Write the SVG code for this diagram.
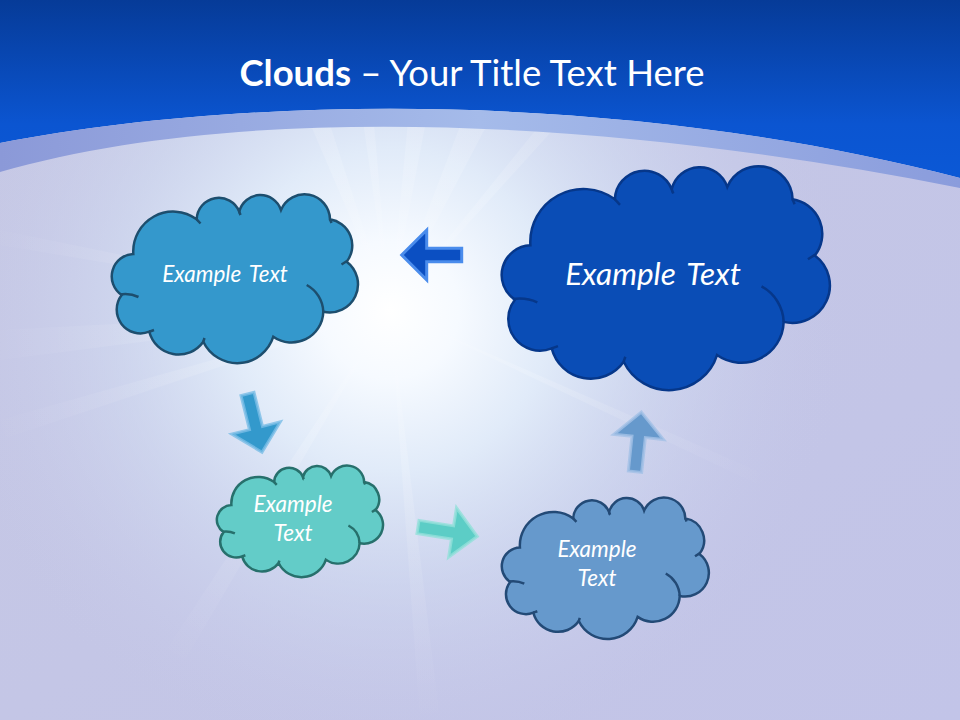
<svg xmlns="http://www.w3.org/2000/svg" xmlns:xlink="http://www.w3.org/1999/xlink" width="960" height="720" viewBox="0 0 960 720">
  <defs>
    <linearGradient id="topBlue" x1="0" y1="0" x2="0" y2="1">
      <stop offset="0" stop-color="#063b98"/>
      <stop offset="0.7" stop-color="#0b55d1"/>
      <stop offset="1" stop-color="#0b58d6"/>
    </linearGradient>
    <linearGradient id="bandGrad" x1="0" y1="0" x2="1" y2="0">
      <stop offset="0" stop-color="#8b99d8"/>
      <stop offset="0.5" stop-color="#a5bbea"/>
      <stop offset="1" stop-color="#8a9cdc"/>
    </linearGradient>
    <linearGradient id="mainGrad" x1="0" y1="0" x2="1" y2="1">
      <stop offset="0" stop-color="#c6c8e4"/>
      <stop offset="1" stop-color="#c2c4e8"/>
    </linearGradient>
    <radialGradient id="glow" cx="390" cy="310" r="460" gradientUnits="userSpaceOnUse">
      <stop offset="0" stop-color="#ffffff" stop-opacity="1"/>
      <stop offset="0.15" stop-color="#f6faff" stop-opacity="1"/>
      <stop offset="0.35" stop-color="#e4effb" stop-opacity="0.9"/>
      <stop offset="0.6" stop-color="#d6e2f5" stop-opacity="0.5"/>
      <stop offset="0.85" stop-color="#cdd4ef" stop-opacity="0.15"/>
      <stop offset="1" stop-color="#c4c8e6" stop-opacity="0"/>
    </radialGradient>
    <radialGradient id="rayFade" cx="390" cy="310" r="420" gradientUnits="userSpaceOnUse">
      <stop offset="0" stop-color="#ffffff" stop-opacity="0"/>
      <stop offset="0.35" stop-color="#ffffff" stop-opacity="0.16"/>
      <stop offset="1" stop-color="#ffffff" stop-opacity="0"/>
    </radialGradient>
    <path id="cloudBody" vector-effect="non-scaling-stroke" d="M133.3,254 A39.9,39.9 0 0 1 196.7,219.3 A22.1,22.1 0 0 1 239.3,211.7 A21.7,21.7 0 0 1 281,210 A25.5,25.5 0 0 1 330,219.3 A26.5,26.5 0 0 1 346.7,261.7 A28.2,28.2 0 0 1 323.3,311.7 A31.7,31.7 0 0 1 273.3,336.7 A37.7,37.7 0 0 1 203.3,341.7 A30.2,30.2 0 0 1 149.3,331.7 A23.8,23.8 0 0 1 121.7,295 A22.4,22.4 0 0 1 133.3,254 Z"/>
    <path id="cloudTails" fill="none" vector-effect="non-scaling-stroke" d="M120,294.5 Q130,293 138.5,297 M306.7,285 A31.7,31.7 0 0 1 323.3,311.7 M341.5,264.5 L347,261 M196.7,219.3 L200.5,223.5 M239.3,211.7 L240.5,215 M330,219.3 L331.5,223 M149.3,331.7 L154,330 M203.3,341.7 L204.5,338"/>
    <polygon id="arrow" points="0,-6.7 35,-6.7 35,-25 60,0 35,25 35,6.7 0,6.7"/>
  </defs>
  <style>
    .title { font-family: Lato, "Open Sans", "Liberation Sans", sans-serif; fill: #ffffff; font-size: 36.5px; }
    .lbl { font-family: Lato, "Open Sans", "Liberation Sans", sans-serif; font-style: italic; fill: #ffffff; text-anchor: middle; stroke: none; }
    .c-left { fill: #3498cc; stroke: #1d4e6e; stroke-width: 2.5; }
    .c-big { fill: #0a4db6; stroke: #06378a; stroke-width: 2.5; }
    .c-teal { fill: #63ccc8; stroke: #27706c; stroke-width: 2.5; }
    .c-gray { fill: #6699cc; stroke: #234a76; stroke-width: 2.5; }
  </style>

  <!-- background -->
  <rect x="0" y="0" width="960" height="720" fill="url(#mainGrad)"/>
  <rect x="0" y="0" width="960" height="720" fill="url(#glow)"/>
  <g fill="url(#rayFade)">
    <polygon points="390,310 300,100 322,100"/>
    <polygon points="390,310 360,100 372,100"/>
    <polygon points="390,310 410,100 430,100"/>
    <polygon points="390,310 470,100 500,100"/>
    <polygon points="390,310 560,100 580,100"/>
    <polygon points="390,310 0,330 0,360"/>
    <polygon points="390,310 0,420 0,440"/>
    <polygon points="390,310 120,720 150,720"/>
    <polygon points="390,310 420,720 440,720"/>
    <polygon points="390,310 960,560 960,580"/>
    <polygon points="390,310 0,230 0,245"/>
  </g>
  <path d="M0,0 H960 V178 C620,90 250,95 0,143 Z" fill="url(#topBlue)"/>
  <path d="M0,143 C250,95 620,90 960,178 V188 C620,120 250,100 0,172 Z" fill="url(#bandGrad)"/>

  <text class="title" x="472" y="86" text-anchor="middle"><tspan font-weight="bold">Clouds</tspan> – Your Title Text Here</text>

  <g id="connectors">
    <use xlink:href="#arrow" href="#arrow" transform="translate(461.7,255) rotate(180)" fill="#0b4fc2" stroke="#4a8cec" stroke-width="3" stroke-linejoin="miter"/>
    <use xlink:href="#arrow" href="#arrow" transform="translate(247.5,394) rotate(76)" fill="#3399cc" stroke="#79bde6" stroke-opacity="0.8" stroke-width="3"/>
    <use xlink:href="#arrow" href="#arrow" transform="translate(418,527) rotate(9)" fill="#5ccdc6" stroke="#92e0da" stroke-opacity="0.8" stroke-width="3"/>
    <use xlink:href="#arrow" href="#arrow" transform="translate(635,471.7) rotate(-84)" fill="#6699cc" stroke="#a2c0e6" stroke-opacity="0.8" stroke-width="3"/>
  </g>

  <g id="cloud-top-left" class="c-left">
    <use xlink:href="#cloudBody" href="#cloudBody"/>
    <use xlink:href="#cloudTails" href="#cloudTails"/>
    <text class="lbl" x="225" y="282" font-size="22.5" word-spacing="3">Example Text</text>
  </g>

  <g id="cloud-top-right" class="c-big">
    <use xlink:href="#cloudBody" href="#cloudBody" transform="translate(502,167) scale(1.333,1.327) translate(-112,-195)"/>
    <use xlink:href="#cloudTails" href="#cloudTails" transform="translate(502,167) scale(1.333,1.327) translate(-112,-195)"/>
    <text class="lbl" x="653" y="285" font-size="31.5" word-spacing="4">Example Text</text>
  </g>

  <g id="cloud-bottom-left" class="c-teal">
    <use xlink:href="#cloudBody" href="#cloudBody" transform="translate(217,466) scale(0.675,0.661) translate(-112,-195)"/>
    <use xlink:href="#cloudTails" href="#cloudTails" transform="translate(217,466) scale(0.675,0.661) translate(-112,-195)"/>
    <text class="lbl" x="293" y="512" font-size="22.5">Example</text>
    <text class="lbl" x="293" y="541" font-size="22.5">Text</text>
  </g>

  <g id="cloud-bottom-right" class="c-gray">
    <use xlink:href="#cloudBody" href="#cloudBody" transform="translate(502,498) scale(0.841,0.839) translate(-112,-195)"/>
    <use xlink:href="#cloudTails" href="#cloudTails" transform="translate(502,498) scale(0.841,0.839) translate(-112,-195)"/>
    <text class="lbl" x="597" y="557" font-size="22.5">Example</text>
    <text class="lbl" x="597" y="586" font-size="22.5">Text</text>
  </g>
</svg>
